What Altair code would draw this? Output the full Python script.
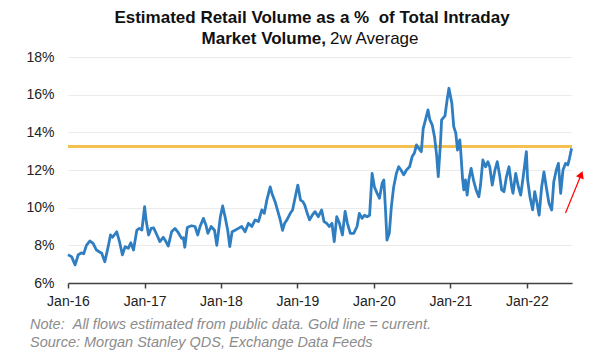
import altair as alt
import pandas as pd

dates = [
    "2016-01-01","2016-01-18","2016-02-04","2016-02-19","2016-03-05","2016-03-16","2016-03-29",
    "2016-04-14","2016-04-30","2016-05-16","2016-05-29","2016-06-10","2016-06-25","2016-07-11",
    "2016-07-22","2016-08-01","2016-08-21","2016-09-03","2016-09-17","2016-09-30","2016-10-15",
    "2016-10-27","2016-11-09","2016-11-25","2016-12-07","2016-12-19",
    "2017-01-01","2017-01-09","2017-01-20","2017-02-01","2017-02-13","2017-03-01","2017-03-15",
    "2017-03-31","2017-04-13","2017-04-24","2017-05-10","2017-05-26","2017-06-11","2017-06-27",
    "2017-07-05","2017-07-12","2017-07-24","2017-08-03","2017-08-14","2017-08-30","2017-09-12",
    "2017-09-23","2017-10-09","2017-10-21","2017-10-30","2017-11-15","2017-12-01","2017-12-12",
    "2017-12-29","2018-01-09","2018-01-22","2018-02-02","2018-02-12","2018-02-23","2018-03-09",
    "2018-03-25","2018-04-10","2018-04-26","2018-05-12","2018-05-28","2018-06-13","2018-06-29",
    "2018-07-15","2018-07-27","2018-08-08","2018-08-24","2018-09-04","2018-09-17","2018-09-30",
    "2018-10-11","2018-10-22","2018-11-01","2018-11-12","2018-11-28","2018-12-09","2018-12-22",
    "2019-01-03","2019-01-16","2019-01-27","2019-02-05","2019-02-17","2019-02-28","2019-03-13",
    "2019-03-26","2019-04-11","2019-04-27","2019-05-08","2019-05-21","2019-06-03","2019-06-15",
    "2019-06-26","2019-07-08","2019-07-21","2019-08-04","2019-08-17","2019-08-28","2019-09-11",
    "2019-09-27","2019-10-13","2019-10-24","2019-11-06","2019-11-18","2019-11-30","2019-12-12",
    "2019-12-24","2020-01-04","2020-01-17","2020-01-28","2020-02-10","2020-02-18","2020-02-26",
    "2020-03-04","2020-03-15","2020-03-25","2020-04-05","2020-04-18","2020-04-29","2020-05-10",
    "2020-05-23","2020-06-05","2020-06-20","2020-07-02","2020-07-13","2020-07-23","2020-08-03",
    "2020-08-15","2020-08-24","2020-09-04","2020-09-16","2020-09-25","2020-10-06","2020-10-17",
    "2020-10-27","2020-11-04","2020-11-15","2020-11-20","2020-12-06","2020-12-16","2020-12-25",
    "2021-01-08","2021-01-17","2021-01-27","2021-02-04","2021-02-15","2021-02-20","2021-02-28",
    "2021-03-06","2021-03-14","2021-03-22","2021-03-30","2021-04-10","2021-04-23","2021-05-04",
    "2021-05-17","2021-05-25","2021-06-05","2021-06-18","2021-06-29","2021-07-08","2021-07-20",
    "2021-08-02","2021-08-13","2021-08-24","2021-09-03","2021-09-14","2021-09-26","2021-10-08",
    "2021-10-21","2021-10-27","2021-11-09","2021-11-22","2021-12-03","2021-12-14","2021-12-30",
    "2022-01-05","2022-01-16","2022-01-29","2022-02-08","2022-02-19","2022-03-01","2022-03-13",
    "2022-03-24","2022-04-04","2022-04-17","2022-04-30","2022-05-10","2022-05-22","2022-06-01",
    "2022-06-12","2022-06-23","2022-07-05","2022-07-16","2022-07-24","2022-08-03",
]
retail_share = [
    7.50, 7.40, 6.96, 7.50, 7.60, 7.55, 8.00,
    8.23, 8.10, 7.75, 7.66, 7.58, 7.13, 7.93,
    8.55, 8.43, 8.72, 8.20, 7.49, 7.93, 7.84,
    8.14, 7.75, 8.81, 8.90, 8.81,
    10.05, 9.26, 8.55, 8.90, 8.93, 8.55, 8.20,
    8.43, 8.20, 7.96, 8.72, 8.90, 8.67, 8.37,
    8.40, 7.90, 8.95, 9.00, 9.04, 9.00, 8.55,
    9.00, 9.43, 9.08, 8.64, 9.00, 8.80, 8.00,
    9.52, 10.09, 9.43, 8.80, 7.93, 8.72, 8.80,
    8.90, 9.00, 8.72, 9.17, 9.00, 9.35, 9.26,
    9.88, 9.70, 10.40, 11.10, 10.67, 10.30, 9.79,
    9.35, 8.80, 9.17, 9.35, 9.70, 9.88, 10.58,
    11.20, 10.40, 10.32, 10.14, 9.70, 9.35, 9.60,
    9.79, 9.52, 9.88, 9.26, 9.17, 9.00, 9.17,
    8.20, 9.52, 9.17, 8.55, 9.80, 9.17, 8.64,
    8.64, 9.00, 9.70, 9.43, 9.60, 9.52, 9.60,
    11.82, 11.10, 10.76, 10.50, 11.30, 11.47, 9.88,
    8.28, 8.64, 10.05, 11.10, 11.82, 12.17, 12.00,
    11.74, 12.00, 12.17, 12.70, 12.90, 13.33, 13.15,
    12.97, 14.20, 14.66, 15.19, 14.66, 14.40, 13.77,
    12.80, 11.65, 13.50, 14.66, 14.87, 15.70, 16.34,
    15.54, 14.30, 13.95, 13.06, 13.60, 12.90, 11.56,
    10.94, 11.47, 10.67, 11.47, 12.09, 11.38, 10.94,
    10.58, 11.20, 12.53, 12.17, 12.44, 12.17, 11.20,
    12.00, 12.44, 11.74, 10.94, 10.85, 11.65, 12.17,
    11.10, 10.76, 11.82, 11.10, 10.67, 11.56, 12.97,
    11.47, 10.58, 9.88, 10.85, 10.23, 9.60, 11.10,
    11.90, 11.10, 10.23, 9.88, 11.38, 12.00, 12.35,
    10.76, 12.00, 12.35, 12.27, 12.62, 13.15,
]
current_level = [13.25]
y_ticks = [6, 8, 10, 12, 14, 16, 18]
tick_years = [2016, 2017, 2018, 2019, 2020, 2021, 2022]
arrow_tail = {"date": "2022-07-05", "value": 9.72}
arrow_head = {"date": "2022-09-18", "value": 11.76}

NB = "\u00a0"
title_line1 = "Estimated Retail Volume as a %" + NB + NB + "of Total Intraday"
title_line2_bold = "Market Volume,"
title_line2_normal = "2w Average"
note_line1 = "Note:" + NB + NB + "All flows estimated from public data. Gold line = current."
note_line2 = "Source: Morgan Stanley QDS, Exchange Data Feeds"

FONT = "Liberation Sans"
BLUE = "#2F7EC1"
GOLD = "#F4C04F"

df = pd.DataFrame({"date": dates, "value": retail_share})
gold_df = pd.DataFrame({"value": current_level})
arrow_df = pd.DataFrame({
    "date": [arrow_tail["date"]], "value": [arrow_tail["value"]],
    "date2": [arrow_head["date"]], "value2": [arrow_head["value"]],
})
head_df = pd.DataFrame({"date": [arrow_head["date"]], "value": [arrow_head["value"]]})

x_scale = alt.Scale(
    type="utc",
    domain=[alt.DateTime(year=2016, month=1, date=1, utc=True),
            alt.DateTime(year=2022, month=8, date=5, utc=True)],
)
y_scale = alt.Scale(domain=[6, 18])

x_axis = alt.Axis(
    values=[alt.DateTime(year=y, month=1, date=1, utc=True) for y in tick_years],
    format="%b-%y", title=None, grid=False, labelOverlap=False, labelFlush=False,
    domainColor="#404040", domainWidth=1.5, tickColor="#404040", tickWidth=1.5,
    tickSize=5, labelPadding=6, labelFont=FONT, labelFontSize=14, labelColor="#222222",
)
y_axis = alt.Axis(
    values=y_ticks, labelExpr="datum.value + '%'", title=None, labelOverlap=False,
    labelFlush=False, domain=False, ticks=False, grid=True, gridColor="#EBEBEB", gridWidth=1,
    labelPadding=14, labelFont=FONT, labelFontSize=14, labelColor="#222222",
)

X = lambda f="date:T": alt.X(f, scale=x_scale, axis=x_axis)
Y = lambda f="value:Q": alt.Y(f, scale=y_scale, axis=y_axis)

gold = alt.Chart(gold_df).mark_rule(color=GOLD, strokeWidth=3).encode(y=Y())

line = alt.Chart(df).mark_line(color=BLUE, strokeWidth=2.8, strokeJoin="round").encode(
    x=X(), y=Y()
)

arrow_line = alt.Chart(arrow_df).mark_rule(color="#FF0000", strokeWidth=1.2).encode(
    x=X(), x2="date2:T", y=Y(), y2="value2:Q",
)
arrow_tip = alt.Chart(head_df).mark_point(
    shape="triangle-up", filled=True, color="#FF0000", size=70, angle=22, opacity=1
).encode(x=X(), y=Y())

def text_mark(txt, x, y, **kw):
    return alt.Chart(pd.DataFrame({"t": [txt]})).mark_text(
        font=FONT, baseline="middle", **kw
    ).encode(x=alt.value(x), y=alt.value(y), text="t:N")

t1 = text_mark(title_line1, 244, -39, fontSize=17, fontWeight="bold", align="center", color="#111111")
t2a = text_mark(title_line2_bold, 258, -18, fontSize=17, fontWeight="bold", align="right", color="#111111")
t2b = text_mark(title_line2_normal, 262, -18, fontSize=17, fontWeight="normal", align="left", color="#111111")
n1 = text_mark(note_line1, -38, 268, fontSize=14.5, fontStyle="italic", align="left", color="#8C8C8C")
n2 = text_mark(note_line2, -38, 286, fontSize=14.5, fontStyle="italic", align="left", color="#8C8C8C")

chart = alt.layer(
    gold, line, arrow_line, arrow_tip, t1, t2a, t2b, n1, n2
).properties(
    width=504, height=226,
    autosize=alt.AutoSizeParams(type="none"),
    padding={"left": 60, "top": 49, "right": 29, "bottom": 73},
).configure_view(stroke=None)

chart.save("out.html", embed_options={"renderer": "svg", "actions": False})
